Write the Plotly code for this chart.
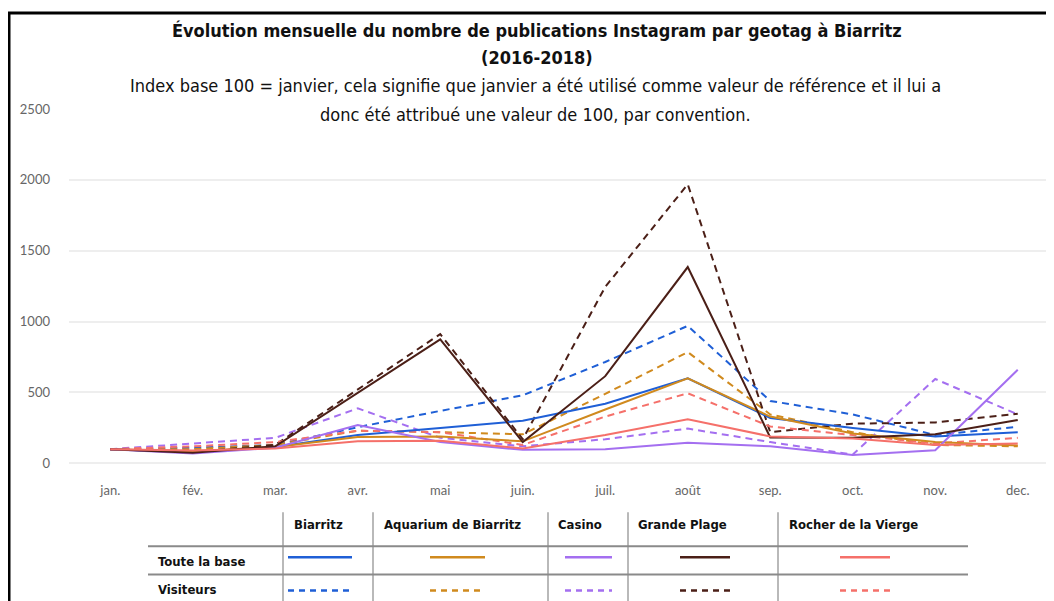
import plotly.graph_objects as go

months = ["jan.", "fév.", "mar.", "avr.", "mai", "juin.", "juil.", "août", "sep.", "oct.", "nov.", "dec."]

places = ["Biarritz", "Aquarium de Biarritz", "Casino", "Grande Plage", "Rocher de la Vierge"]
colors = ["#1f5fd6", "#d08a1e", "#a46ff0", "#4b1f17", "#f5706a"]

# Toute la base (solid)
biarritz_all = [100, 80, 115, 200, 250, 300, 420, 600, 320, 250, 190, 220]
aquarium_all = [100, 85, 115, 185, 190, 155, 380, 600, 330, 210, 150, 125]
casino_all = [100, 70, 110, 270, 150, 95, 100, 145, 120, 58, 92, 660]
grandeplage_all = [100, 75, 120, 500, 875, 150, 615, 1385, 183, 180, 205, 305]
rocher_all = [100, 90, 105, 155, 160, 105, 200, 310, 190, 175, 130, 140]

# Visiteurs (dashed)
biarritz_vis = [100, 110, 130, 255, 370, 480, 715, 970, 440, 345, 200, 258]
aquarium_vis = [100, 100, 130, 230, 220, 205, 490, 785, 345, 220, 130, 120]
casino_vis = [100, 140, 180, 388, 180, 120, 170, 245, 150, 62, 595, 345]
grandeplage_vis = [100, 80, 130, 520, 912, 170, 1245, 1969, 220, 280, 288, 350]
rocher_vis = [100, 120, 150, 230, 220, 130, 330, 494, 260, 200, 140, 180]

all_series = [biarritz_all, aquarium_all, casino_all, grandeplage_all, rocher_all]
vis_series = [biarritz_vis, aquarium_vis, casino_vis, grandeplage_vis, rocher_vis]

# page is rendered with an 8px body margin: work in page coordinates, shift by OFF
OFF = 8
W, H = 1054 - OFF, 601 - OFF
PL, PR, PT, PB = 69, 1054, 109, 468.7   # plot area in page pixels
L, T = PL - OFF, PT - OFF
R = (1054) - PR
B = 601 - PB
PW, PH = PR - PL, PB - PT

def px(x):
    return (x - PL) / PW

def py(y):
    return (PB - y) / PH

fig = go.Figure()
DASH = "7px,5px"
for name, c, v in zip(places, colors, vis_series):
    fig.add_trace(go.Scatter(x=months, y=v, mode="lines", name=name + " (visiteurs)",
                             line=dict(color=c, width=2, dash=DASH), showlegend=False))
for name, c, v in zip(places, colors, all_series):
    fig.add_trace(go.Scatter(x=months, y=v, mode="lines", name=name,
                             line=dict(color=c, width=2), showlegend=False))

shapes = []
annotations = []

TFONT = "Liberation Sans Narrow, DejaVu Sans Condensed, Arial Narrow, sans-serif"

def text(t, x, y, size, xanchor="center", color="#111"):
    annotations.append(dict(text=t, x=px(x), y=py(y), xref="paper", yref="paper",
                            xanchor=xanchor, yanchor="middle", showarrow=False,
                            font=dict(family=TFONT, size=size, color=color)))

# titles
text("<b>Évolution mensuelle du nombre de publications Instagram par geotag à Biarritz</b>", 537, 31, 18)
text("<b>(2016-2018)</b>", 537, 58, 18)
text("Index base 100 = janvier, cela signifie que janvier a été utilisé comme valeur de référence et il lui a",
     535, 86, 18)
text("donc été attribué une valeur de 100, par convention.", 535, 114, 18)

# legend table
line_col = "#8a8a8a"
for xv in [283, 373, 548, 628, 778]:
    shapes.append(dict(type="line", xref="paper", yref="paper", x0=px(xv), x1=px(xv),
                       y0=py(512), y1=py(601), line=dict(color=line_col, width=1.2)))
for yv in [546, 574]:
    shapes.append(dict(type="line", xref="paper", yref="paper", x0=px(148), x1=px(968),
                       y0=py(yv), y1=py(yv), line=dict(color=line_col, width=2)))

header_x = [292, 382, 556, 636, 787]
for hx, name in zip(header_x, places):
    text("<b>" + name + "</b>", hx, 524, 13, xanchor="left")
for ry, label in [(561, "Toute la base"), (589, "Visiteurs")]:
    text("<b>" + label + "</b>", ry and 156, ry, 13, xanchor="left")

sample_x = [(288, 352), (430, 485), (565, 612), (680, 730), (840, 890)]
for (x0, x1), c in zip(sample_x, colors):
    shapes.append(dict(type="line", xref="paper", yref="paper", x0=px(x0), x1=px(x1),
                       y0=py(557), y1=py(557), line=dict(color=c, width=2.5)))
    shapes.append(dict(type="line", xref="paper", yref="paper", x0=px(x0), x1=px(x1),
                       y0=py(590), y1=py(590), line=dict(color=c, width=2.5, dash="6px,5px")))

# black frame (left and top)
shapes.append(dict(type="line", xref="paper", yref="paper", x0=px(9), x1=px(9),
                   y0=py(12), y1=py(601), line=dict(color="#000", width=3)))
shapes.append(dict(type="line", xref="paper", yref="paper", x0=px(8), x1=px(1054),
                   y0=py(13), y1=py(13), line=dict(color="#000", width=3)))

fig.update_layout(
    width=W, height=H,
    margin=dict(l=L, r=R, t=T, b=B),
    paper_bgcolor="white", plot_bgcolor="white",
    shapes=shapes, annotations=annotations,
    showlegend=False,
    font=dict(family="Lato, sans-serif", color="#666", size=13),
)
fig.update_xaxes(type="category", range=[-0.5, -0.5 + PW / 82.5], showgrid=False, showline=False,
                 zeroline=False, ticks="", tickfont=dict(family="Lato, sans-serif", size=13, color="#666"),
                 ticklabelstandoff=12)
fig.update_yaxes(range=[-40, 2500], tickvals=[0, 500, 1000, 1500, 2000, 2500],
                 showgrid=True, gridcolor="#eeeeee", gridwidth=2, zeroline=False, showline=False,
                 tickfont=dict(family="Lato, sans-serif", size=13, color="#666"), ticklabelstandoff=18)

fig.write_html("out.html")
